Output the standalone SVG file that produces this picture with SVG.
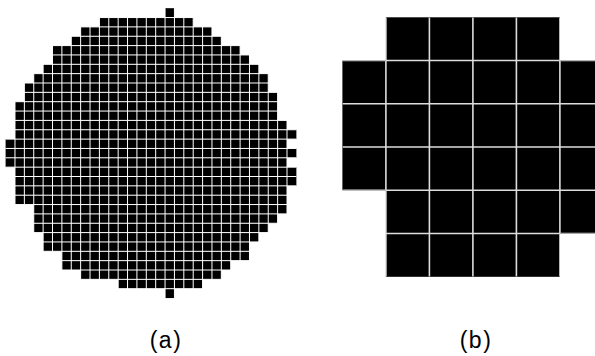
<svg xmlns="http://www.w3.org/2000/svg" width="595" height="356" viewBox="0 0 595 356">
<style>
.cell{fill:#000}
.grid{fill:none;stroke:#fff;stroke-width:1;vector-effect:non-scaling-stroke}
.gridb{fill:none;stroke:#ddd;stroke-width:1.6;vector-effect:non-scaling-stroke}
.lbl{font-family:"Liberation Sans",Arial,sans-serif;font-size:23px;fill:#000;text-anchor:middle;letter-spacing:1.5px}
</style>
<defs>
<clipPath id="clipb">
<rect x="1" y="0" width="4" height="1"/>
<rect x="0" y="1" width="6" height="3"/>
<rect x="1" y="4" width="5" height="1"/>
<rect x="1" y="5" width="4" height="1"/>
</clipPath>
</defs>
<rect width="595" height="356" fill="#fff"/>
<g id="fine-grid" transform="translate(5.6,8.2) scale(9.38,9.35)">
<rect class="cell" x="17" y="0" width="1" height="1"/>
<rect class="cell" x="10" y="1" width="10" height="1"/>
<rect class="cell" x="8" y="2" width="14" height="1"/>
<rect class="cell" x="7" y="3" width="16" height="1"/>
<rect class="cell" x="5" y="4" width="20" height="1"/>
<rect class="cell" x="5" y="5" width="21" height="1"/>
<rect class="cell" x="4" y="6" width="23" height="1"/>
<rect class="cell" x="3" y="7" width="25" height="1"/>
<rect class="cell" x="2" y="8" width="26" height="1"/>
<rect class="cell" x="2" y="9" width="27" height="1"/>
<rect class="cell" x="1" y="10" width="28" height="1"/>
<rect class="cell" x="1" y="11" width="28" height="1"/>
<rect class="cell" x="1" y="12" width="29" height="1"/>
<rect class="cell" x="1" y="13" width="30" height="1"/>
<rect class="cell" x="0" y="14" width="30" height="1"/>
<rect class="cell" x="0" y="15" width="31" height="1"/>
<rect class="cell" x="0" y="16" width="30" height="1"/>
<rect class="cell" x="1" y="17" width="30" height="1"/>
<rect class="cell" x="1" y="18" width="30" height="1"/>
<rect class="cell" x="1" y="19" width="29" height="1"/>
<rect class="cell" x="1" y="20" width="29" height="1"/>
<rect class="cell" x="3" y="21" width="27" height="1"/>
<rect class="cell" x="3" y="22" width="26" height="1"/>
<rect class="cell" x="3" y="23" width="25" height="1"/>
<rect class="cell" x="4" y="24" width="23" height="1"/>
<rect class="cell" x="4" y="25" width="22" height="1"/>
<rect class="cell" x="6" y="26" width="20" height="1"/>
<rect class="cell" x="6" y="27" width="18" height="1"/>
<rect class="cell" x="8" y="28" width="15" height="1"/>
<rect class="cell" x="12" y="29" width="9" height="1"/>
<rect class="cell" x="17" y="30" width="1" height="1"/>
<path class="grid" d="M1 0V31M2 0V31M3 0V31M4 0V31M5 0V31M6 0V31M7 0V31M8 0V31M9 0V31M10 0V31M11 0V31M12 0V31M13 0V31M14 0V31M15 0V31M16 0V31M17 0V31M18 0V31M19 0V31M20 0V31M21 0V31M22 0V31M23 0V31M24 0V31M25 0V31M26 0V31M27 0V31M28 0V31M29 0V31M30 0V31M0 1H31M0 2H31M0 3H31M0 4H31M0 5H31M0 6H31M0 7H31M0 8H31M0 9H31M0 10H31M0 11H31M0 12H31M0 13H31M0 14H31M0 15H31M0 16H31M0 17H31M0 18H31M0 19H31M0 20H31M0 21H31M0 22H31M0 23H31M0 24H31M0 25H31M0 26H31M0 27H31M0 28H31M0 29H31M0 30H31"/>
</g>
<g id="coarse-grid" transform="translate(342.4,17.3) scale(43.5,43.25)">
<rect class="cell" x="1" y="0" width="4" height="1"/>
<rect class="cell" x="0" y="1" width="6" height="3"/>
<rect class="cell" x="1" y="4" width="5" height="1"/>
<rect class="cell" x="1" y="5" width="4" height="1"/>
<path class="gridb" clip-path="url(#clipb)" d="M1 0V6M2 0V6M3 0V6M4 0V6M5 0V6M0 1H6M0 2H6M0 3H6M0 4H6M0 5H6"/>
</g>
<text class="lbl" x="166" y="348">(a)</text>
<text class="lbl" x="476" y="348">(b)</text>
</svg>
